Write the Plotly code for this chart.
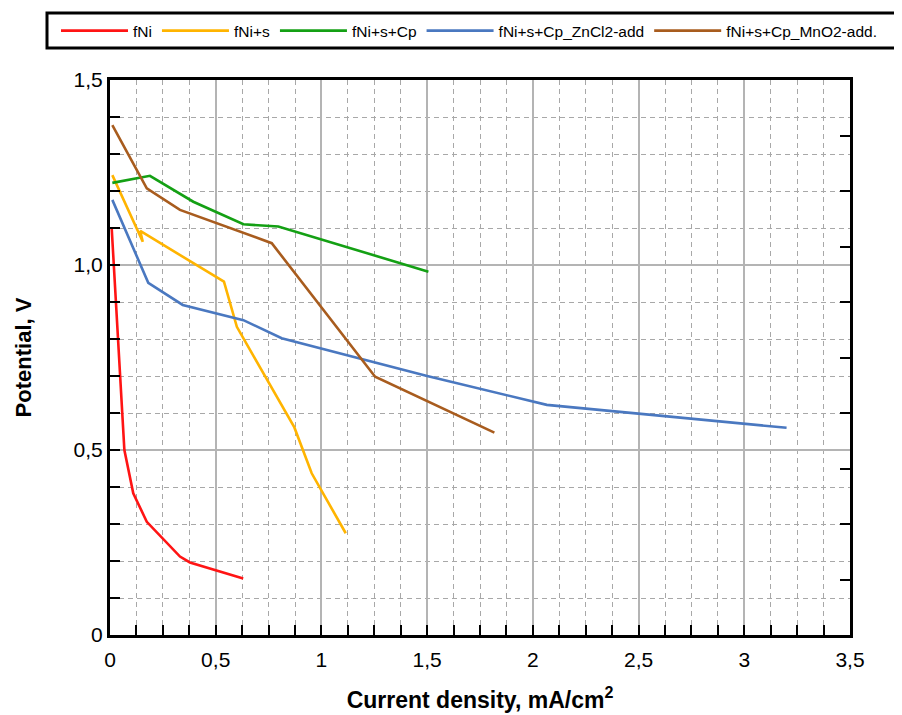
import plotly.graph_objects as go

# ---- data ----
names = ["fNi", "fNi+s", "fNi+s+Cp", "fNi+s+Cp_ZnCl2-add", "fNi+s+Cp_MnO2-add."]
colors = ["#ff1414", "#ffb400", "#14a014", "#4a78c0", "#a85c1e"]

fNi_x = [0.008, 0.068, 0.11, 0.174, 0.331, 0.378, 0.63]
fNi_y = [1.10, 0.50, 0.383, 0.306, 0.212, 0.196, 0.153]

fNis_x = [0.011, 0.155, 0.143, 0.539, 0.60, 0.872, 0.954, 1.115]
fNis_y = [1.243, 1.063, 1.092, 0.955, 0.833, 0.561, 0.437, 0.275]

fNisCp_x = [0.011, 0.189, 0.394, 0.631, 0.796, 1.246, 1.506]
fNisCp_y = [1.222, 1.241, 1.171, 1.110, 1.104, 1.027, 0.982]

zn_x = [0.011, 0.181, 0.344, 0.631, 0.812, 1.50, 2.066, 3.20]
zn_y = [1.176, 0.952, 0.892, 0.851, 0.802, 0.700, 0.622, 0.560]

mn_x = [0.011, 0.174, 0.331, 0.615, 0.765, 1.254, 1.818]
mn_y = [1.378, 1.207, 1.149, 1.090, 1.059, 0.698, 0.547]

xs = [fNi_x, fNis_x, fNisCp_x, zn_x, mn_x]
ys = [fNi_y, fNis_y, fNisCp_y, zn_y, mn_y]

x_tickvals = [0, 0.5, 1, 1.5, 2, 2.5, 3, 3.5]
x_ticktext = ["0", "0,5", "1", "1,5", "2", "2,5", "3", "3,5"]
y_tickvals = [0, 0.5, 1.0, 1.5]
y_ticktext = ["0", "0,5", "1,0", "1,5"]

FONT = "Liberation Sans, Arial, sans-serif"

fig = go.Figure()
for n, c, x, y in zip(names, colors, xs, ys):
    fig.add_trace(go.Scatter(x=x, y=y, mode="lines", name=n,
                             line=dict(color=c, width=2.6)))

# invisible trace to carry right-side tick marks
fig.add_trace(go.Scatter(x=[0], y=[0], yaxis="y2", mode="lines",
                         line=dict(width=0), showlegend=False, hoverinfo="skip"))

OFF = 8  # page offset of the figure in the browser
W, H = 902, 715
L, T = 110 - OFF, 80 - OFF
R = W - (850 - OFF)
B = H - (635 - OFF)
pw, ph = W - L - R, H - T - B

def px2paper_x(p):
    return (p - OFF - L) / pw

def px2paper_y(p):
    return (H - B - (p - OFF)) / ph

GRID_MAJOR = "#b4b4b4"
GRID_MINOR = "#a8a8a8"

fig.update_layout(
    width=W, height=H,
    margin=dict(l=L, r=R, t=T, b=B, autoexpand=False),
    plot_bgcolor="white", paper_bgcolor="white",
    font=dict(family=FONT, color="black"),
    xaxis=dict(range=[0, 3.5], tickvals=x_tickvals, ticktext=x_ticktext,
               ticks="inside", ticklen=10, tickwidth=1.5, tickcolor="black",
               showline=True, linewidth=3, linecolor="black", mirror=True,
               showgrid=True, gridcolor=GRID_MAJOR, gridwidth=1.5,
               zeroline=False, tickfont=dict(size=21), ticklabelstandoff=4,
               minor=dict(dtick=0.125, tick0=0, ticks="inside", ticklen=10,
                          tickcolor="black", tickwidth=1.5, showgrid=True,
                          gridcolor=GRID_MINOR, gridwidth=1.2, griddash="5px,4px"),
               title=dict(text="<b>Current density, mA/cm<sup>2</sup></b>",
                          font=dict(size=23), standoff=22)),
    yaxis=dict(range=[0, 1.5], tickvals=y_tickvals, ticktext=y_ticktext,
               ticks="inside", ticklen=10, tickwidth=1.5, tickcolor="black",
               showline=True, linewidth=3, linecolor="black", mirror=True,
               showgrid=True, gridcolor=GRID_MAJOR, gridwidth=1.5,
               zeroline=False, tickfont=dict(size=21),
               minor=dict(dtick=0.1, tick0=0, ticks="inside", ticklen=10,
                          tickcolor="black", tickwidth=1.5, showgrid=True,
                          gridcolor=GRID_MINOR, gridwidth=1.2, griddash="5px,4px"),
               title=dict(text="<b>Potential, V</b>",
                          font=dict(size=22), standoff=36)),
    yaxis2=dict(range=[0, 1.5], overlaying="y", side="right", dtick=0.15,
                ticks="inside", ticklen=10, tickwidth=1.5, tickcolor="black",
                showticklabels=False, showgrid=False, zeroline=False, showline=False),
    legend=dict(orientation="h", x=px2paper_x(56), y=px2paper_y(31),
                xanchor="left", yanchor="middle", bgcolor="rgba(0,0,0,0)",
                font=dict(size=15.5), itemwidth=67,
                traceorder="normal"),
    shapes=[dict(type="rect", xref="paper", yref="paper",
                 x0=px2paper_x(47), x1=px2paper_x(910),
                 y0=px2paper_y(48), y1=px2paper_y(13),
                 line=dict(color="black", width=3), fillcolor="rgba(0,0,0,0)")],
    showlegend=True,
)

fig.write_html("out.html")
